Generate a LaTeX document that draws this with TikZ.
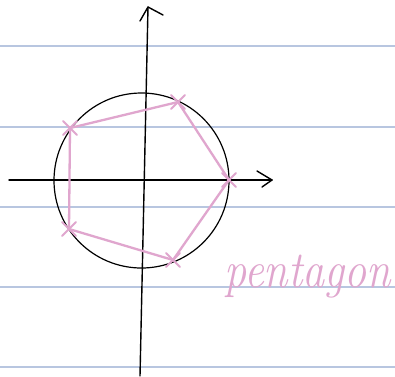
\documentclass[tikz,border=0pt]{standalone}
\definecolor{pinkink}{RGB}{224,166,206}
\definecolor{ruled}{RGB}{184,198,224}
\begin{document}
\begin{tikzpicture}[x=1pt,y=-1pt,
  rule/.style={ruled,line width=1.1pt},
  axis/.style={black,line width=1.4pt,line cap=round,line join=round},
  poly/.style={pinkink,line width=2.3pt,line cap=round,line join=round},
  tick/.style={pinkink,line width=1.8pt,line cap=round},
  hand/.style={pinkink,font=\itshape\fontsize{52}{52}\selectfont,xscale=0.85,inner sep=0pt,anchor=base west}]
\useasboundingbox (0,0) rectangle (395,376);
\fill[white] (0,0) rectangle (395,376);
% ruled lines
\foreach \yy in {46,127,207,287,367}
  \draw[rule] (0,\yy) -- (395,\yy);
% axes
\coordinate (xl) at (9,180);
\coordinate (xr) at (272,180);
\coordinate (yb) at (140,376);
\coordinate (yt) at (148,7);
\draw[axis] (xl) -- (xr);
\draw[axis] (257,171) -- (xr) -- (262,187);
\draw[axis] (yb) -- (yt);
\draw[axis] (140,21) -- (yt) -- (163,15);
% circle
\coordinate (c) at (141.5,180.5);
\draw[black,line width=1.2pt] (c) circle[radius=87.5];
% pentagon
\coordinate (p1) at (229,180);
\coordinate (p2) at (178,102);
\coordinate (p3) at (70,128);
\coordinate (p4) at (69,229);
\coordinate (p5) at (173,260);
\draw[poly] (p1) -- (p2) -- (p3) -- (p4) -- (p5) -- cycle;
% crosses
\foreach \p in {p1,p2,p3,p4,p5}{
  \draw[tick] ([shift={(-7,-7)}]\p) -- ([shift={(7,7)}]\p);
  \draw[tick] ([shift={(-7,7)}]\p) -- ([shift={(7,-7)}]\p);
}
% label
\node[hand] (lbl) at (224,287) {pentagon};
\end{tikzpicture}
\end{document}
